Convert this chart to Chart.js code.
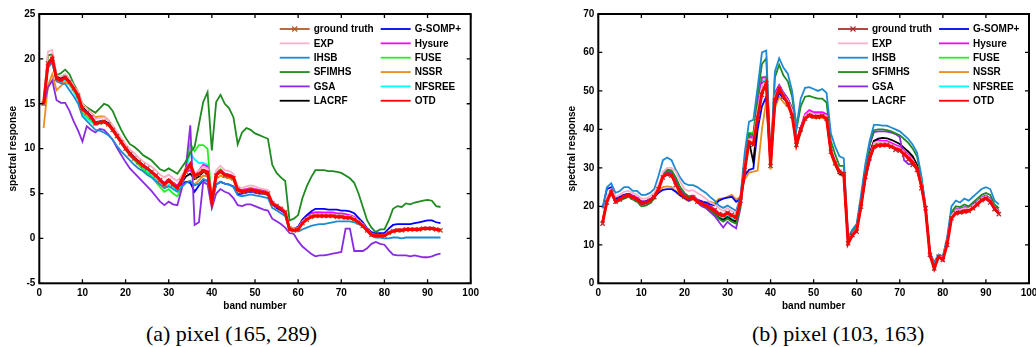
<!DOCTYPE html>
<html>
<head>
<meta charset="utf-8">
<script src="https://cdn.jsdelivr.net/npm/chart.js@4.4.0/dist/chart.umd.min.js"></script>
<style>
  html, body { margin: 0; padding: 0; background: #fff; width: 1036px; height: 347px; overflow: hidden; }
  canvas { position: absolute; top: 0; }
  #chartA { left: 0; }
  #chartB { left: 559px; }
  .caption { position: absolute; top: 323px; font-family: "Liberation Serif", "Times New Roman", serif; font-size: 22px; line-height: 22px; white-space: nowrap; color: #000; }
  #capA { right: 719px; }
  #capB { left: 752px; }
</style>
</head>
<body>
<canvas id="chartA" width="518" height="320" style="width:518px;height:320px"></canvas>
<canvas id="chartB" width="490" height="320" style="width:490px;height:320px"></canvas>
<div class="caption" id="capA">(a) pixel (165, 289)</div>
<div class="caption" id="capB">(b) pixel (103, 163)</div>
<script>
const bands = [1, 2, 3, 4, 5, 6, 7, 8, 9, 10, 11, 12, 13, 14, 15, 16, 17, 18, 19, 20,
  21, 22, 23, 24, 25, 26, 27, 28, 29, 30, 31, 32, 33, 34, 35, 36, 37, 38, 39, 40,
  41, 42, 43, 44, 45, 46, 47, 48, 49, 50, 51, 52, 53, 54, 55, 56, 57, 58, 59, 60,
  61, 62, 63, 64, 65, 66, 67, 68, 69, 70, 71, 72, 73, 74, 75, 76, 77, 78, 79, 80,
  81, 82, 83, 84, 85, 86, 87, 88, 89, 90, 91, 92, 93];

// legend order: first column, then second column
const names = ["ground truth", "EXP", "IHSB", "SFIMHS", "GSA", "LACRF",
  "G-SOMP+", "Hysure", "FUSE", "NSSR", "NFSREE", "OTD"];

// ---- (a) pixel (165, 289) ----
const gtA = [15.0, 19.5, 20.0, 17.8, 17.6, 17.9, 17.4, 16.7, 15.9, 14.5,
  14.0, 13.5, 12.8, 12.9, 13.0, 12.7, 12.1, 11.4, 10.7, 10.0,
  9.4, 8.9, 8.5, 8.1, 7.8, 7.4, 7.0, 6.5, 6.0, 6.4,
  6.0, 5.7, 6.4, 7.4, 8.0, 6.8, 7.1, 7.5, 7.3, 4.2,
  7.0, 7.4, 7.0, 6.9, 6.7, 5.4, 5.2, 5.3, 5.4, 5.3,
  5.2, 5.1, 5.0, 3.9, 3.6, 3.3, 2.9, 1.1, 0.9, 1.0,
  1.7, 2.1, 2.4, 2.5, 2.5, 2.5, 2.5, 2.5, 2.4, 2.4,
  2.3, 2.3, 2.1, 1.8, 1.4, 0.9, 0.4, 0.3, 0.3, 0.3,
  0.6, 0.8, 0.9, 0.9, 1.0, 1.0, 1.0, 1.0, 1.1, 1.1,
  1.1, 1.0, 0.9];
const expA = [15.2, 20.8, 21.0, 18.2, 18.0, 18.3, 17.8, 17.0, 16.3, 15.0,
  14.5, 14.0, 13.3, 13.4, 13.5, 13.2, 12.6, 11.9, 11.2, 10.5,
  9.9, 9.5, 9.0, 8.6, 8.3, 8.0, 7.6, 7.1, 6.8, 7.1,
  6.7, 6.4, 7.0, 7.8, 8.4, 7.2, 7.6, 8.0, 7.8, 4.5,
  7.6, 8.1, 7.6, 7.5, 7.2, 5.8, 5.6, 5.8, 5.9, 5.8,
  5.6, 5.5, 5.4, 4.1, 3.8, 3.5, 3.1, 1.2, 1.1, 1.2,
  1.9, 2.3, 2.6, 2.7, 2.7, 2.7, 2.7, 2.7, 2.6, 2.6,
  2.5, 2.5, 2.3, 2.0, 1.6, 1.0, 0.5, 0.4, 0.4, 0.4,
  0.7, 0.9, 1.0, 1.0, 1.1, 1.1, 1.1, 1.1, 1.2, 1.2,
  1.2, 1.1, 1.0];
const ihsbA = [15.0, 19.0, 19.6, 17.5, 17.3, 17.2, 16.5, 15.8, 15.0, 13.6,
  13.1, 12.6, 12.1, 12.0, 11.8, 11.5, 11.0, 10.3, 9.7, 9.2,
  8.7, 8.2, 7.8, 7.5, 7.1, 6.8, 6.4, 6.0, 5.6, 5.8,
  5.5, 5.2, 5.7, 6.2, 6.4, 5.9, 6.1, 6.6, 6.4, 4.0,
  6.0, 6.3, 6.1, 6.0, 5.7, 4.8, 4.7, 4.8, 4.9, 4.8,
  4.7, 4.6, 4.5, 3.4, 3.1, 2.8, 2.5, 0.9, 0.8, 0.8,
  1.0, 1.2, 1.4, 1.5, 1.6, 1.6, 1.7, 1.8, 1.9, 1.9,
  1.9, 1.9, 1.8, 1.6, 1.3, 0.8, 0.3, 0.1, 0.1, 0.0,
  0.0, 0.1, 0.1, 0.0, 0.1, 0.1, 0.1, 0.1, 0.1, 0.1,
  0.1, 0.1, 0.1];
const sfimhsA = [15.2, 20.4, 20.5, 18.2, 18.4, 18.8, 18.3, 17.2, 16.3, 15.0,
  14.6, 14.3, 14.0, 14.5, 15.0, 14.8, 14.2, 13.1, 12.1, 11.2,
  10.5, 10.2, 9.8, 9.3, 9.0, 8.7, 8.2, 7.7, 7.5, 7.8,
  7.5, 7.2, 7.9, 8.6, 9.6, 10.2, 12.7, 15.2, 16.3, 9.8,
  15.2, 16.0, 15.0, 14.5, 13.5, 10.5, 11.8, 12.3, 12.1, 11.7,
  11.5, 11.3, 11.1, 8.2, 7.3, 6.8, 6.4, 2.0, 2.2, 2.6,
  4.5, 5.8, 6.8, 7.6, 7.6, 7.6, 7.5, 7.5, 7.4, 7.3,
  7.0, 6.7, 6.2, 5.0, 3.5, 2.0, 1.2, 0.7, 1.0, 1.0,
  2.0, 3.3, 3.6, 3.5, 3.9, 3.8, 4.0, 4.1, 4.2, 4.3,
  4.2, 3.6, 3.5];
const gsaA = [14.8, 16.8, 17.6, 15.4, 15.1, 15.1, 14.2, 13.0, 12.0, 10.8,
  12.5, 12.1, 11.8, 12.2, 12.1, 11.6, 11.0, 10.1, 9.3, 8.5,
  7.8, 7.3, 6.8, 6.3, 5.8, 5.3, 4.7, 4.1, 3.7, 4.1,
  3.8, 3.7, 5.5, 8.0, 12.6, 1.5, 1.8, 6.3, 6.0, 3.4,
  5.0, 5.5, 5.2, 5.0, 4.5, 3.7, 3.6, 3.8, 3.8, 3.6,
  3.4, 3.2, 3.1, 2.2, 1.9, 1.6, 1.2, 0.6, 0.5, -0.3,
  -0.9, -1.3, -1.7, -2.0, -1.9, -1.9, -1.8, -1.7, -1.6, -1.5,
  1.1, 1.1, -1.4, -1.4, -1.4, -1.1, -0.6, -0.4, -0.6, -0.7,
  -1.3, -1.8, -1.9, -1.9, -1.9, -2.0, -1.9, -2.0, -2.1, -2.1,
  -2.0, -1.8, -1.7];
const lacrfA = [15.0, 19.6, 20.1, 18.0, 17.9, 18.2, 17.6, 16.8, 16.0, 14.6,
  14.1, 13.6, 12.9, 13.0, 13.1, 12.8, 12.2, 11.5, 10.8, 10.1,
  9.5, 9.0, 8.5, 8.1, 7.8, 7.4, 7.0, 6.5, 6.0, 6.4,
  6.0, 5.7, 6.2, 6.9, 7.2, 6.6, 6.9, 7.4, 7.2, 4.2,
  7.0, 7.4, 7.0, 6.9, 6.7, 5.4, 5.2, 5.3, 5.4, 5.3,
  5.2, 5.1, 5.0, 3.9, 3.6, 3.3, 2.9, 1.0, 0.9, 1.0,
  1.7, 2.1, 2.4, 2.5, 2.5, 2.5, 2.5, 2.5, 2.4, 2.4,
  2.3, 2.3, 2.1, 1.8, 1.4, 0.9, 0.4, 0.3, 0.3, 0.3,
  0.6, 0.8, 0.9, 0.9, 1.0, 1.0, 1.0, 1.0, 1.1, 1.1,
  1.1, 1.0, 0.9];
const gsompA = [15.0, 19.3, 19.8, 17.9, 17.8, 18.1, 17.6, 16.8, 16.0, 14.6,
  14.1, 13.6, 12.9, 13.0, 13.1, 12.8, 12.2, 11.5, 10.8, 10.1,
  9.5, 9.0, 8.6, 8.2, 7.8, 7.4, 7.0, 6.5, 6.1, 6.4,
  6.0, 5.7, 6.1, 6.3, 6.2, 5.2, 5.9, 6.5, 6.4, 4.1,
  6.0, 6.3, 6.1, 6.0, 5.8, 4.9, 5.0, 5.1, 5.2, 5.1,
  5.0, 5.0, 4.9, 3.8, 3.4, 3.1, 2.8, 1.1, 1.1, 1.3,
  2.1, 2.6, 3.0, 3.3, 3.3, 3.3, 3.2, 3.2, 3.2, 3.1,
  3.1, 3.0, 2.8, 2.3, 1.8, 1.1, 0.7, 0.6, 0.6, 0.6,
  1.1, 1.5, 1.6, 1.6, 1.6, 1.6, 1.7, 1.8, 1.9, 2.0,
  2.0, 1.8, 1.7];
const hysureA = [15.0, 19.4, 19.9, 17.9, 17.7, 18.0, 17.5, 16.8, 16.0, 14.6,
  14.1, 13.6, 12.9, 13.0, 13.1, 12.8, 12.2, 11.5, 10.8, 10.1,
  9.5, 9.0, 8.6, 8.2, 7.9, 7.5, 7.1, 6.6, 6.2, 6.6,
  6.2, 5.9, 6.6, 7.4, 7.6, 7.0, 7.6, 8.2, 8.0, 4.3,
  7.2, 7.6, 7.2, 7.1, 6.9, 5.5, 5.4, 5.5, 5.6, 5.5,
  5.4, 5.3, 5.2, 4.0, 3.7, 3.4, 3.0, 1.1, 1.0, 1.2,
  2.0, 2.5, 2.8, 2.9, 2.9, 2.9, 2.9, 2.9, 2.8, 2.8,
  2.7, 2.6, 2.4, 2.0, 1.5, 1.0, 0.5, 0.4, 0.4, 0.4,
  0.7, 0.9, 1.0, 1.0, 1.1, 1.1, 1.1, 1.1, 1.2, 1.2,
  1.2, 1.1, 1.0];
const fuseA = [15.0, 19.3, 19.8, 17.7, 17.5, 17.8, 17.3, 16.5, 15.7, 14.0,
  13.6, 13.2, 12.7, 12.9, 13.0, 12.8, 12.2, 11.5, 10.7, 9.9,
  9.2, 8.7, 8.2, 7.7, 7.3, 6.9, 6.3, 5.7, 5.2, 5.5,
  5.0, 4.7, 5.6, 8.0, 10.6, 9.7, 10.4, 10.4, 10.0, 4.2,
  7.3, 7.7, 7.2, 7.1, 6.9, 5.5, 5.3, 5.4, 5.5, 5.4,
  5.3, 5.2, 5.1, 3.9, 3.6, 3.3, 2.9, 1.0, 1.0, 1.1,
  1.9, 2.3, 2.6, 2.7, 2.7, 2.7, 2.7, 2.7, 2.6, 2.6,
  2.5, 2.4, 2.2, 1.8, 1.4, 0.9, 0.4, 0.3, 0.3, 0.3,
  0.6, 0.8, 0.9, 0.9, 1.0, 1.0, 1.0, 1.0, 1.1, 1.1,
  1.1, 1.0, 0.9];
const nssrA = [12.3, 17.0, 18.3, 16.5, 17.0, 17.4, 17.2, 16.6, 16.0, 15.0,
  14.5, 14.0, 13.5, 13.6, 13.6, 13.2, 12.5, 11.7, 10.9, 10.2,
  9.6, 9.1, 8.6, 8.2, 7.8, 7.4, 6.9, 6.4, 6.0, 6.3,
  5.9, 5.7, 6.0, 6.3, 6.4, 6.0, 6.5, 7.0, 6.9, 4.3,
  6.6, 7.0, 6.8, 6.7, 6.5, 5.2, 5.1, 5.2, 5.3, 5.2,
  5.1, 5.0, 4.9, 3.8, 3.6, 3.3, 2.9, 1.1, 1.1, 1.2,
  2.0, 2.5, 2.8, 2.9, 2.9, 2.8, 2.8, 2.7, 2.7, 2.6,
  2.5, 2.4, 2.2, 1.8, 1.4, 0.9, 0.5, 0.4, 0.4, 0.4,
  0.7, 0.9, 1.0, 1.0, 1.0, 1.0, 1.0, 1.0, 1.1, 1.1,
  1.1, 1.0, 1.0];
const nfsreeA = [15.0, 19.2, 19.7, 17.6, 17.4, 17.6, 17.1, 16.3, 15.4, 13.8,
  13.4, 13.0, 12.6, 12.8, 12.9, 12.6, 12.0, 11.3, 10.6, 9.9,
  9.3, 8.8, 8.3, 7.9, 7.5, 7.1, 6.6, 6.1, 5.7, 6.0,
  5.7, 5.4, 6.0, 7.8, 9.5, 8.8, 8.4, 8.4, 8.2, 4.1,
  7.1, 7.5, 7.1, 7.0, 6.8, 5.4, 5.2, 5.3, 5.4, 5.3,
  5.2, 5.1, 5.0, 3.9, 3.6, 3.3, 2.9, 1.0, 0.9, 1.0,
  1.8, 2.2, 2.5, 2.6, 2.6, 2.6, 2.6, 2.6, 2.5, 2.5,
  2.4, 2.4, 2.2, 1.8, 1.4, 0.9, 0.4, 0.3, 0.3, 0.3,
  0.6, 0.8, 0.9, 0.9, 1.0, 1.0, 1.0, 1.0, 1.1, 1.1,
  1.1, 1.0, 0.9];
const otdA = [15.0, 19.4, 20.1, 17.8, 17.6, 17.9, 17.4, 16.7, 15.9, 14.4,
  14.0, 13.5, 12.8, 12.9, 13.0, 12.7, 12.1, 11.4, 10.7, 10.0,
  9.4, 8.9, 8.5, 8.1, 7.8, 7.4, 7.0, 6.5, 6.0, 6.5,
  6.0, 5.6, 6.5, 7.6, 8.3, 7.0, 7.2, 7.6, 7.4, 4.1,
  7.1, 7.5, 7.1, 7.0, 6.8, 5.4, 5.2, 5.3, 5.4, 5.3,
  5.2, 5.1, 5.0, 3.9, 3.6, 3.3, 2.9, 1.0, 0.9, 1.0,
  1.7, 2.1, 2.4, 2.5, 2.5, 2.5, 2.5, 2.5, 2.4, 2.4,
  2.3, 2.3, 2.1, 1.8, 1.4, 0.9, 0.4, 0.3, 0.3, 0.3,
  0.6, 0.8, 0.9, 0.9, 1.0, 1.0, 1.0, 1.0, 1.1, 1.1,
  1.1, 1.0, 0.9];

// ---- (b) pixel (103, 163) ----
const gtB = [15.5, 21.0, 23.6, 21.2, 21.8, 22.5, 22.8, 22.3, 21.7, 20.8,
  20.9, 21.4, 22.4, 24.5, 27.5, 28.3, 28.0, 25.5, 23.5, 22.5,
  22.0, 22.3, 21.2, 20.8, 20.3, 19.6, 19.0, 18.0, 17.8, 18.3,
  17.8, 17.3, 21.5, 29.5, 36.5, 36.0, 43.0, 49.0, 52.0, 30.5,
  47.5, 50.5, 48.5, 46.5, 43.5, 36.0, 40.0, 42.8, 43.5, 43.3,
  43.2, 43.5, 42.8, 34.2, 31.2, 29.0, 28.4, 10.4, 12.5, 13.4,
  19.9, 27.7, 32.5, 35.5, 35.8, 35.9, 36.0, 35.5, 34.7, 34.5,
  33.5, 32.2, 30.8, 29.5, 24.7, 19.5, 7.4, 3.9, 6.9, 6.1,
  10.0, 16.9, 18.2, 18.4, 18.6, 18.8, 19.5, 20.5, 21.6, 22.0,
  21.0, 19.3, 18.0];
const expB = [16.0, 22.5, 24.5, 22.5, 23.0, 23.8, 24.0, 23.5, 23.0, 22.0,
  22.0, 22.5, 23.5, 25.5, 29.0, 30.0, 30.0, 29.0, 26.5, 24.5,
  24.0, 24.2, 23.5, 22.8, 22.0, 21.0, 20.5, 19.5, 18.8, 19.5,
  18.8, 18.2, 21.5, 30.5, 37.5, 37.5, 45.0, 51.5, 52.5, 30.8,
  48.5, 51.0, 49.0, 47.5, 45.0, 36.5, 40.0, 43.5, 44.5, 44.0,
  44.0, 44.0, 43.5, 34.5, 31.2, 28.8, 28.3, 10.8, 12.8, 14.3,
  20.5, 27.8, 33.0, 36.5, 36.8, 36.7, 36.6, 36.1, 35.6, 35.1,
  34.1, 33.1, 32.1, 30.1, 26.3, 19.3, 7.7, 4.4, 7.2, 6.5,
  10.8, 17.5, 19.0, 19.1, 19.5, 19.4, 20.2, 21.1, 22.1, 22.6,
  21.7, 19.8, 18.5];
const ihsbB = [19.5, 25.0, 26.0, 23.5, 24.0, 25.0, 25.0, 24.0, 24.0, 23.0,
  23.0, 23.5, 24.5, 28.0, 32.0, 32.7, 32.0, 29.5, 27.5, 26.0,
  25.5, 25.5, 25.0, 24.2, 23.5, 22.4, 21.5, 20.2, 19.6, 20.2,
  19.5, 18.8, 22.5, 34.0, 42.0, 42.5, 51.0, 60.0, 60.5, 31.5,
  55.0, 58.5, 56.0, 54.5, 50.0, 40.8, 48.0, 50.8, 51.0, 50.5,
  50.0, 50.5, 49.5, 39.0, 35.5, 33.0, 32.5, 12.0, 14.0, 15.5,
  23.0, 31.0, 37.0, 41.2, 41.2, 41.0, 41.0, 40.5, 40.0, 39.5,
  38.5, 37.5, 36.0, 34.0, 28.0, 20.0, 8.0, 5.5, 7.5, 7.0,
  12.0, 20.0, 21.5, 21.0, 22.0, 21.5, 22.5, 23.5, 24.5, 25.0,
  24.5, 21.5, 20.5];
const sfimhsB = [16.0, 22.0, 23.5, 21.0, 21.5, 22.0, 22.5, 21.8, 21.2, 20.0,
  20.2, 20.8, 22.0, 24.5, 28.0, 29.5, 29.3, 27.5, 25.0, 23.5,
  22.5, 22.6, 21.5, 20.8, 20.0, 19.0, 18.2, 16.8, 16.0, 16.8,
  16.0, 15.5, 20.0, 31.0, 39.0, 38.5, 49.0, 57.0, 58.5, 30.5,
  53.5, 56.8, 54.0, 52.5, 48.5, 40.0, 46.0, 48.5, 48.7, 48.3,
  48.0, 48.0, 47.0, 37.0, 33.5, 30.5, 30.5, 11.5, 13.5, 15.0,
  22.0, 30.0, 36.0, 39.8, 40.0, 40.0, 39.8, 39.5, 39.0, 38.5,
  37.5, 36.5, 35.0, 33.0, 27.5, 19.5, 7.8, 5.0, 7.2, 6.8,
  11.5, 18.5, 20.0, 19.8, 20.5, 20.0, 21.0, 22.0, 23.0, 23.5,
  23.0, 20.5, 19.5];
const gsaB = [16.0, 21.5, 23.5, 21.0, 21.5, 22.5, 22.8, 22.0, 21.5, 20.5,
  20.8, 21.3, 22.3, 24.5, 28.0, 29.0, 28.8, 27.0, 24.5, 22.8,
  21.8, 22.0, 21.0, 20.0, 19.5, 18.5, 17.5, 16.0, 14.5, 16.0,
  15.0, 14.3, 19.5, 30.0, 38.0, 37.5, 45.0, 52.0, 52.5, 30.5,
  49.0, 51.5, 49.5, 48.0, 45.5, 37.0, 40.5, 43.5, 44.5, 44.0,
  44.0, 44.0, 43.5, 34.5, 31.5, 29.0, 28.5, 11.0, 13.0, 14.5,
  21.5, 30.0, 36.0, 39.3, 39.5, 39.5, 39.4, 39.2, 38.8, 38.0,
  32.0, 31.0, 31.0, 29.8, 26.5, 19.0, 7.6, 4.8, 7.2, 6.7,
  11.0, 17.8, 19.2, 19.3, 19.8, 19.7, 20.5, 21.3, 22.3, 22.8,
  22.0, 20.0, 18.8];
const lacrfB = [15.8, 21.3, 23.6, 21.6, 22.1, 22.6, 23.0, 22.5, 22.0, 21.0,
  21.0, 21.5, 22.5, 24.5, 27.8, 28.5, 28.2, 26.0, 23.8, 22.6,
  22.0, 22.2, 21.2, 20.5, 20.0, 19.0, 18.2, 17.0, 16.5, 17.2,
  16.5, 16.0, 20.5, 30.5, 36.8, 31.5, 43.0, 52.0, 52.5, 30.5,
  48.0, 50.5, 48.5, 47.0, 44.5, 36.2, 39.8, 43.2, 44.2, 43.7,
  43.7, 43.7, 43.2, 34.2, 31.0, 28.6, 28.1, 10.6, 12.6, 14.1,
  20.5, 28.0, 33.5, 37.0, 37.6, 37.8, 37.7, 37.3, 36.8, 36.2,
  35.2, 34.2, 33.0, 30.8, 26.5, 19.3, 7.6, 4.3, 7.0, 6.4,
  10.6, 17.2, 18.6, 18.8, 19.1, 19.1, 19.8, 20.8, 21.8, 22.3,
  21.4, 19.4, 18.2];
const gsompB = [19.5, 24.5, 25.0, 22.0, 22.5, 23.0, 23.2, 22.5, 22.0, 21.2,
  21.3, 21.8, 22.5, 23.5, 24.3, 24.5, 24.5, 23.8, 22.8, 22.2,
  21.5, 22.0, 21.5, 21.3, 21.0, 20.5, 20.3, 21.5, 22.0, 22.3,
  22.5, 21.2, 22.0, 28.0, 29.5, 29.8, 40.0, 46.0, 48.5, 31.0,
  46.5, 49.5, 48.0, 47.0, 44.5, 36.0, 39.5, 43.0, 44.0, 43.5,
  43.5, 43.5, 43.0, 34.0, 31.0, 28.5, 28.0, 10.5, 12.5, 14.0,
  20.0, 27.0, 32.0, 35.5, 36.0, 36.0, 36.0, 35.5, 35.0, 34.5,
  33.5, 32.5, 31.5, 29.5, 26.0, 19.0, 7.5, 4.2, 7.0, 6.3,
  10.5, 17.0, 18.3, 18.5, 18.7, 18.8, 19.5, 20.5, 21.5, 22.0,
  21.0, 19.2, 18.0];
const hysureB = [16.0, 21.8, 24.0, 21.8, 22.3, 23.0, 23.3, 22.8, 22.3, 21.3,
  21.3, 21.8, 22.8, 25.0, 28.3, 29.2, 28.8, 26.5, 24.3, 23.2,
  22.6, 22.8, 21.8, 21.3, 20.8, 20.0, 19.3, 18.3, 17.5, 18.5,
  17.8, 17.0, 21.0, 31.0, 38.5, 38.0, 46.5, 53.5, 53.5, 30.8,
  49.5, 51.5, 49.5, 48.0, 45.5, 37.0, 40.5, 44.0, 45.0, 44.5,
  44.5, 44.5, 44.0, 34.8, 31.5, 29.0, 28.5, 11.0, 13.0, 14.5,
  21.0, 28.5, 34.0, 37.0, 37.2, 37.0, 37.0, 36.5, 36.0, 35.5,
  34.5, 33.5, 32.5, 30.5, 26.5, 19.5, 7.8, 4.6, 7.3, 6.7,
  11.0, 17.8, 19.2, 19.3, 19.7, 19.6, 20.4, 21.3, 22.3, 22.8,
  22.0, 20.0, 18.8];
const fuseB = [15.8, 21.5, 23.5, 21.3, 21.8, 22.5, 22.8, 22.2, 21.5, 20.5,
  20.7, 21.2, 22.3, 24.8, 28.5, 29.6, 29.3, 27.2, 24.8, 23.0,
  22.0, 22.2, 21.2, 20.5, 19.8, 18.8, 18.0, 16.8, 16.2, 17.0,
  16.3, 15.8, 20.5, 32.0, 39.0, 39.2, 47.0, 53.5, 53.8, 30.6,
  49.0, 51.0, 49.0, 47.5, 45.0, 36.5, 40.0, 43.5, 44.5, 44.0,
  44.0, 44.0, 43.5, 34.5, 31.2, 28.8, 28.3, 10.7, 12.7, 14.2,
  20.3, 27.5, 32.8, 36.3, 36.6, 36.5, 36.4, 36.0, 35.5, 35.0,
  34.0, 33.0, 32.0, 30.0, 26.2, 19.2, 7.6, 4.3, 7.1, 6.4,
  10.7, 17.4, 18.8, 19.0, 19.3, 19.3, 20.0, 21.0, 22.0, 22.5,
  21.6, 19.6, 18.4];
const nssrB = [16.0, 21.5, 23.5, 21.5, 21.8, 22.3, 22.5, 22.0, 21.5, 20.8,
  21.0, 21.5, 22.5, 24.0, 25.0, 25.2, 25.0, 24.0, 23.0, 22.0,
  21.3, 21.8, 21.2, 20.8, 21.0, 21.2, 20.8, 22.0, 22.0, 22.5,
  23.0, 21.8, 22.5, 27.0, 28.8, 29.0, 29.3, 40.0, 47.5, 29.5,
  45.5, 48.5, 47.0, 46.0, 43.5, 35.5, 39.0, 42.5, 43.5, 43.0,
  43.0, 43.0, 42.5, 33.5, 30.5, 28.2, 27.8, 10.5, 12.5, 14.0,
  20.0, 27.0, 32.0, 35.8, 36.2, 36.2, 36.1, 35.7, 35.2, 34.7,
  33.7, 32.7, 31.7, 29.7, 26.0, 19.0, 7.5, 4.2, 7.0, 6.3,
  10.5, 17.0, 18.4, 18.6, 18.9, 18.9, 19.6, 20.6, 21.6, 22.1,
  21.2, 19.3, 18.1];
const nfsreeB = [15.8, 21.3, 23.7, 21.5, 22.0, 22.6, 23.0, 22.4, 21.8, 20.8,
  20.9, 21.4, 22.5, 24.6, 28.0, 29.0, 28.7, 26.5, 24.2, 22.9,
  22.2, 22.4, 21.4, 20.8, 20.2, 19.3, 18.6, 17.4, 16.8, 17.6,
  16.9, 16.4, 20.8, 31.0, 38.0, 38.2, 46.0, 52.5, 53.0, 30.6,
  48.5, 50.8, 48.8, 47.3, 44.8, 36.4, 40.0, 43.3, 44.3, 43.8,
  43.8, 43.8, 43.3, 34.3, 31.1, 28.7, 28.2, 10.6, 12.6, 14.1,
  20.2, 27.3, 32.5, 36.0, 36.4, 36.3, 36.2, 35.8, 35.3, 34.8,
  33.8, 32.8, 31.8, 29.8, 26.1, 19.1, 7.5, 4.3, 7.0, 6.4,
  10.6, 17.2, 18.6, 18.8, 19.1, 19.1, 19.8, 20.8, 21.8, 22.3,
  21.4, 19.4, 18.2];
const otdB = [15.8, 21.2, 23.8, 21.3, 21.9, 22.6, 23.0, 22.4, 21.8, 20.9,
  21.0, 21.5, 22.5, 24.5, 27.7, 28.4, 28.1, 25.8, 23.6, 22.5,
  22.0, 22.3, 21.2, 20.7, 20.2, 19.5, 18.9, 17.9, 17.6, 18.2,
  17.6, 17.1, 21.3, 29.5, 36.8, 36.2, 43.0, 49.5, 52.0, 30.6,
  47.6, 50.6, 48.6, 46.8, 43.6, 36.2, 40.0, 42.9, 43.6, 43.3,
  43.2, 43.5, 42.8, 34.2, 31.2, 29.0, 28.4, 10.4, 12.5, 13.8,
  20.0, 27.7, 32.5, 35.5, 35.8, 35.9, 35.9, 35.5, 35.0, 34.6,
  33.6, 32.6, 31.5, 29.8, 25.5, 19.0, 7.4, 3.9, 6.9, 6.1,
  10.2, 16.9, 18.2, 18.4, 18.6, 18.8, 19.5, 20.5, 21.6, 22.1,
  21.3, 19.4, 18.2];

const seriesA = [gtA, expA, ihsbA, sfimhsA, gsaA, lacrfA, gsompA, hysureA, fuseA, nssrA, nfsreeA, otdA];
const seriesB = [gtB, expB, ihsbB, sfimhsB, gsaB, lacrfB, gsompB, hysureB, fuseB, nssrB, nfsreeB, otdB];

const colors = {
  "EXP": "#ffb0c8", "IHSB": "#1e8ad2", "SFIMHS": "#1f8a1f", "GSA": "#8a2be2",
  "LACRF": "#000000", "G-SOMP+": "#0000ff", "Hysure": "#ff00ff", "FUSE": "#22f022",
  "NSSR": "#ec8c1a", "NFSREE": "#00ffff", "OTD": "#ff0000"
};

const FONT = "'Liberation Sans', Arial, sans-serif";
Chart.defaults.font.family = FONT;
Chart.defaults.color = "#000";

// box, inward ticks on all four sides, and the two-column legend
const framePlugin = {
  id: "frame",
  afterDraw(chart) {
    const { ctx, chartArea: a, scales: { x, y } } = chart;
    ctx.save();
    ctx.strokeStyle = "#000";
    ctx.lineWidth = 1.3;
    ctx.beginPath();
    x.ticks.forEach(t => {
      const px = x.getPixelForValue(t.value);
      ctx.moveTo(px, a.bottom); ctx.lineTo(px, a.bottom - 4);
      ctx.moveTo(px, a.top); ctx.lineTo(px, a.top + 4);
    });
    y.ticks.forEach(t => {
      const py = y.getPixelForValue(t.value);
      ctx.moveTo(a.left, py); ctx.lineTo(a.left + 4, py);
      ctx.moveTo(a.right, py); ctx.lineTo(a.right - 4, py);
    });
    ctx.stroke();
    ctx.lineWidth = 2;
    ctx.strokeRect(a.left, a.top, a.right - a.left, a.bottom - a.top);

    ctx.font = "bold 10px " + FONT;
    ctx.textBaseline = "middle";
    ctx.textAlign = "left";
    chart.data.datasets.forEach(ds => {
      const x0 = a.right - (ds.legendCol ? 90 : 191);
      const ly = a.top + 15 + ds.legendRow * 14.35;
      ctx.strokeStyle = ds.borderColor;
      ctx.lineWidth = 1.8;
      ctx.beginPath();
      ctx.moveTo(x0, ly); ctx.lineTo(x0 + 30, ly);
      ctx.stroke();
      if (ds.pointRadius > 0) {
        const cx = x0 + 15, r = 2.5;
        ctx.lineWidth = 1.3;
        ctx.beginPath();
        ctx.moveTo(cx - r, ly - r); ctx.lineTo(cx + r, ly + r);
        ctx.moveTo(cx - r, ly + r); ctx.lineTo(cx + r, ly - r);
        ctx.stroke();
      }
      ctx.fillStyle = "#000";
      ctx.fillText(ds.label, x0 + 34, ly + 0.5);
    });
    ctx.restore();
  }
};

function buildChart(canvasId, series, gtColor, yMin, yMax, yStep, padRight) {
  const datasets = names.map((name, i) => {
    const isGt = name === "ground truth";
    const color = isGt ? gtColor : colors[name];
    return {
      label: name,
      data: bands.map((b, k) => ({ x: b, y: series[i][k] })),
      borderColor: color,
      backgroundColor: color,
      borderWidth: name === "OTD" ? 3 : (isGt ? 1.5 : 1.8),
      pointRadius: isGt ? 3 : 0,
      pointStyle: "crossRot",
      pointBorderColor: color,
      pointBorderWidth: 1.3,
      tension: 0,
      order: name === "OTD" ? 0 : (isGt ? 1 : 2 + i),
      legendRow: i % 6,
      legendCol: i < 6 ? 0 : 1
    };
  });

  const tickFont = { size: 10, weight: "bold" };

  return new Chart(document.getElementById(canvasId), {
    type: "line",
    data: { datasets },
    options: {
      responsive: false,
      animation: false,
      devicePixelRatio: 1,
      layout: { padding: { top: 14, right: padRight, left: 0, bottom: 0 } },
      plugins: { legend: { display: false }, tooltip: { enabled: false } },
      scales: {
        x: {
          type: "linear",
          min: 0,
          max: 100,
          ticks: { stepSize: 10, font: tickFont, color: "#000", padding: 4, maxRotation: 0, autoSkip: false },
          grid: { display: false, drawTicks: false },
          border: { display: false },
          title: { display: true, text: "band number", font: tickFont, color: "#000", padding: { top: 0, bottom: 7.5 } },
          afterFit: s => { s.height = 36.7; }
        },
        y: {
          type: "linear",
          min: yMin,
          max: yMax,
          ticks: { stepSize: yStep, font: tickFont, color: "#000", padding: 4 },
          grid: { display: false, drawTicks: false },
          border: { display: false },
          title: { display: true, text: "spectral response", font: tickFont, color: "#000", padding: { top: 7.3, bottom: 0 } },
          afterFit: s => { s.width = 39.3; }
        }
      }
    },
    plugins: [framePlugin]
  });
}

buildChart("chartA", seriesA, "#b35a2c", -5, 25, 5, 47.3);
buildChart("chartB", seriesB, "#a83232", 0, 70, 10, 20);
</script>
</body>
</html>
